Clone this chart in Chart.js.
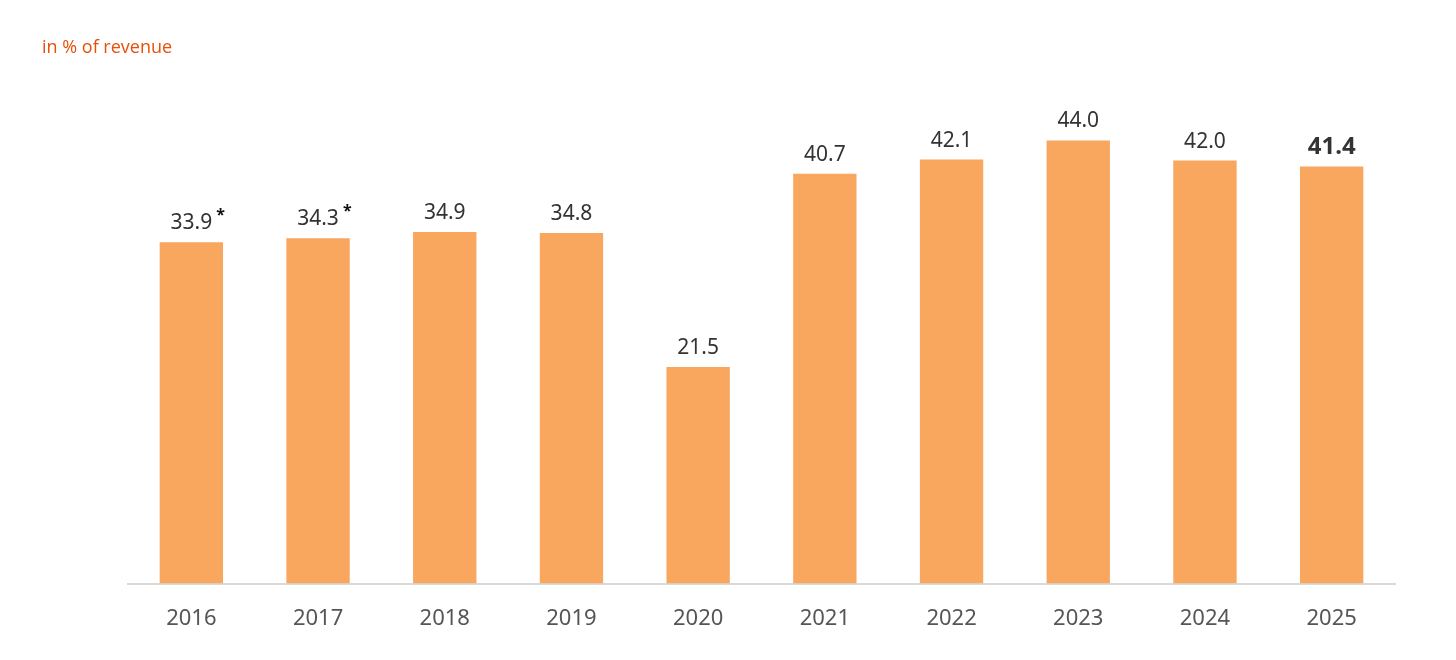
<!DOCTYPE html>
<html>
<head>
<meta charset="utf-8">
<script src="https://cdn.jsdelivr.net/npm/chart.js@4.4.1/dist/chart.umd.min.js"></script>
<style>
html,body{margin:0;padding:0;background:#fff;}
#wrap{position:relative;width:1456px;height:660px;}
#title{position:absolute;left:42px;top:34px;font-family:"Open Sans","Noto Sans",sans-serif;font-size:18px;color:#E8500A;}
canvas{position:absolute;left:0;top:0;}
</style>
</head>
<body>
<div id="wrap">
<canvas id="c" width="1456" height="660"></canvas>
<div id="title">in % of revenue</div>
</div>
<script>
const categories = ["2016","2017","2018","2019","2020","2021","2022","2023","2024","2025"];
const values = [33.9,34.3,34.9,34.8,21.5,40.7,42.1,44.0,42.0,41.4];
const footnoteMarks = ["*","*","","","","","","","",""];
const boldLabels = [false,false,false,false,false,false,false,false,false,true];

const labelPlugin = {
  id: 'valueLabels',
  afterDatasetsDraw(chart) {
    const ctx = chart.ctx;
    const meta = chart.getDatasetMeta(0);
    ctx.save();
    meta.data.forEach((bar, i) => {
      const txt = values[i].toFixed(1);
      const bold = boldLabels[i];
      ctx.font = (bold ? 'bold 24px' : '21px') + ' "Noto Sans","Open Sans",sans-serif';
      ctx.fillStyle = '#333333';
      ctx.textAlign = 'center';
      ctx.textBaseline = 'alphabetic';
      const y = bar.y - 13;
      ctx.fillText(txt, bar.x, y);
      if (footnoteMarks[i]) {
        const w = ctx.measureText(txt).width;
        ctx.font = 'bold 16px "Noto Sans",sans-serif';
        ctx.fillStyle = '#111';
        ctx.textAlign = 'left';
        ctx.fillText(footnoteMarks[i], bar.x + w/2 + 4, y - 9);
      }
    });
    ctx.restore();
  }
};

new Chart(document.getElementById('c'), {
  type: 'bar',
  data: {
    labels: categories,
    datasets: [{
      data: values,
      backgroundColor: '#F9A65E',
      borderWidth: 0,
      barPercentage: 0.5,
      categoryPercentage: 1.0
    }]
  },
  options: {
    responsive: false,
    animation: false,
    layout: { padding: { left: 128, right: 61, top: 80, bottom: 14 } },
    plugins: { legend: { display: false }, tooltip: { enabled: false } },
    scales: {
      x: {
        grid: { display: false },
        border: { display: true, color: '#d9d9d9', width: 2 },
        ticks: { color: '#555555', font: { size: 22, family: '"Noto Sans","Open Sans",sans-serif' }, padding: 14 }
      },
      y: {
        display: false,
        min: 0,
        max: 50
      }
    }
  },
  plugins: [labelPlugin]
});
</script>
</body>
</html>
